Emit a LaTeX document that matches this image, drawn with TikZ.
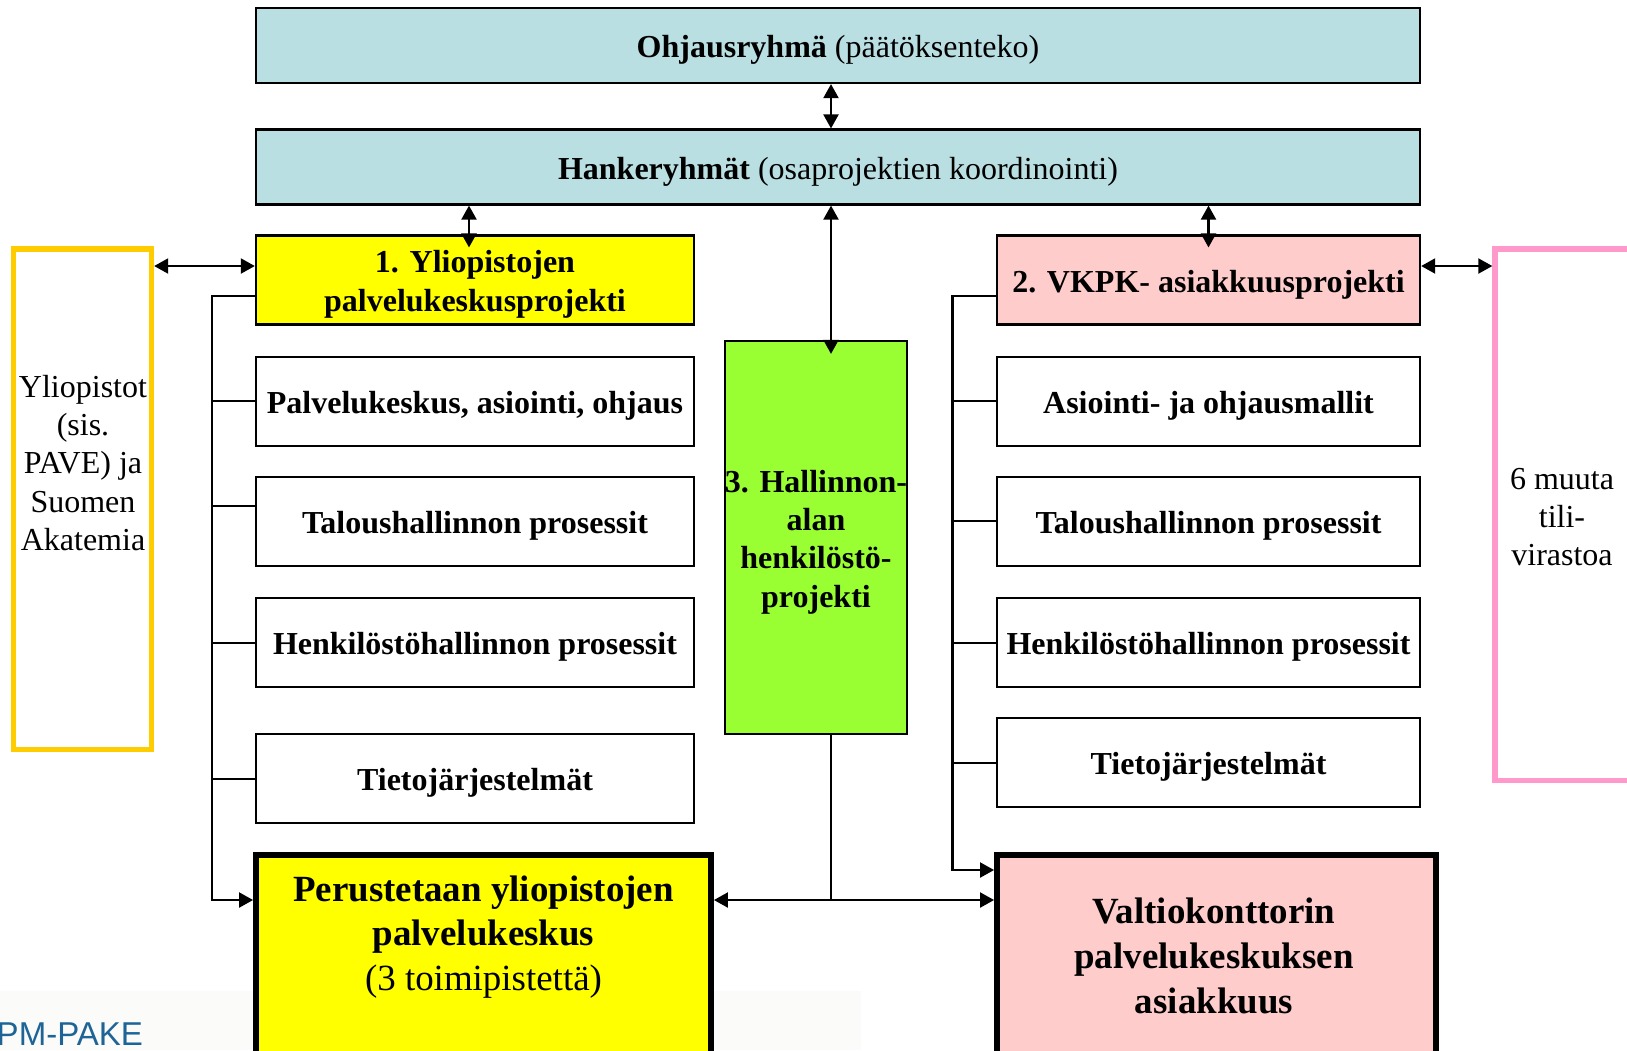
\documentclass[tikz,border=0pt]{standalone}
\usepackage{fontspec}
\setmainfont{Liberation Serif}
\newfontfamily\pakefont{Liberation Sans}
\usepackage{tikz}
\usetikzlibrary{positioning}
\usetikzlibrary{arrows.meta}
\usetikzlibrary{calc}
\usepackage{xcolor}
\definecolor{hankeblue}{RGB}{185,223,226}
\definecolor{projyellow}{RGB}{255,255,0}
\definecolor{projpink}{RGB}{255,204,204}
\definecolor{projgreen}{RGB}{153,255,51}
\definecolor{yoorange}{RGB}{255,204,0}
\definecolor{muutpink}{RGB}{255,153,204}
\definecolor{pakeblue}{RGB}{30,100,150}
\definecolor{footgray}{RGB}{251,251,249}
% lifts the first line so the text sits a little lower in its box
\newcommand{\lift}{\rule{0pt}{8.8pt}}

\begin{document}
\begin{tikzpicture}[
  x=0.01cm, y=-0.01cm,
  txt/.style={align=center, inner sep=0pt, font=\fontsize{9.1}{10.9}\selectfont},
  box/.style={txt, draw, line width=0.6pt, minimum width=4.38cm, minimum height=0.89cm,
    font=\fontsize{9.1}{10.9}\selectfont\bfseries, execute at begin node=\lift},
  topbox/.style={box, fill=hankeblue, minimum width=11.64cm, minimum height=0.75cm, font=\fontsize{9.1}{10.9}\selectfont},
  bigbox/.style={draw, line width=1.6pt, minimum width=4.5cm, minimum height=2.1cm},
  bigtxt/.style={align=center, inner sep=0pt, font=\fontsize{10.5}{12.7}\selectfont\bfseries},
  sidebox/.style={txt, draw, line width=1.5pt, minimum width=1.38cm},
  line/.style={line width=0.6pt},
  arr/.style={line, -{Triangle[length=0.14cm,width=0.15cm]}},
  darr/.style={line, {Triangle[length=0.14cm,width=0.15cm]}-{Triangle[length=0.14cm,width=0.15cm]}}
]
\useasboundingbox (0,0) rectangle (1627,1050);
\clip (0,0) rectangle (1627,1050);

\fill[footgray] (0,991) rectangle (861,1050);
\node[anchor=base west, inner sep=0pt, text=pakeblue, font=\pakefont\fontsize{9.4}{11}\selectfont] (pake) at (-4,1045) {PM-PAKE};

\node[topbox] (ohj) at (838,45.5) {\textbf{Ohjausryhmä} (päätöksenteko)};
\node[topbox] (hanke) at (838,167) {\textbf{Hankeryhmät} (osaprojektien koordinointi)};

% project 1
\node[box, fill=projyellow] (p1) at (475,280) {\lift1. Yliopistojen\\palvelukeskusprojekti};
\node[box, below=0.30cm of p1] (pa1) {Palvelukeskus, asiointi, ohjaus};
\node[box, below=0.29cm of pa1] (ta1) {Taloushallinnon prosessit};
\node[box, below=0.30cm of ta1] (he1) {Henkilöstöhallinnon prosessit};
\node[box, below=0.45cm of he1] (ti1) {Tietojärjestelmät};

% project 2
\node[box, fill=projpink, minimum width=4.23cm] (p2) at (1208.5,280) {2. VKPK- asiakkuusprojekti};
\node[box, minimum width=4.23cm, below=0.30cm of p2] (as2) {Asiointi- ja ohjausmallit};
\node[box, minimum width=4.23cm, below=0.29cm of as2] (ta2) {Taloushallinnon prosessit};
\node[box, minimum width=4.23cm, below=0.30cm of ta2] (he2) {Henkilöstöhallinnon prosessit};
\node[box, minimum width=4.23cm, below=0.29cm of he2] (ti2) {Tietojärjestelmät};

% project 3
\node[box, fill=projgreen, minimum width=1.82cm, minimum height=3.93cm] (g) at (816,537.5) {\lift3. Hallinnon-\\alan\\henkilöstö-\\projekti};

% side groups
\node[sidebox, draw=yoorange, minimum height=5cm] (yo) at (82.5,499) {};
\node[txt] (yo-txt) at (83,463) {Yliopistot\\(sis.\\PAVE) ja\\Suomen\\Akatemia};
\node[sidebox, draw=muutpink, minimum width=1.35cm, minimum height=5.31cm] (muut) at (1562.5,514.5) {};
\node[txt] (muut-txt) at (1562,517) {6 muuta\\tili-\\virastoa};

% results
\node[bigbox, fill=projyellow, minimum width=4.55cm] (perus) at (483.5,960) {};
\node[bigtxt] (perus-txt) at (483.5,937) {Perustetaan yliopistojen\\palvelukeskus\\\textmd{(3 toimipistettä)}};
\node[bigbox, fill=projpink, minimum width=4.39cm] (valtio) at (1216.5,960) {};
\node[bigtxt] (valtio-txt) at (1214,956) {Valtiokonttorin\\palvelukeskuksen\\asiakkuus};

\coordinate (lbus) at (212,900);
\coordinate (rbus) at (952.5,870);
\coordinate (mid) at (831,900);
\coordinate (p1top) at ($(p1.north)+(-6,0)$);

\draw[darr] (ohj.south -| mid) -- (hanke.north -| mid);
\draw[darr, shorten >=-0.14cm] (hanke.south -| mid) -- (g.north -| mid);
\draw[darr, shorten >=-0.13cm] (hanke.south -| p1top) -- (p1top);
\draw[darr, shorten >=-0.13cm] (hanke.south -| p2.north) -- (p2.north);
\draw[darr] (yo.east |- 0,266) -- (p1.west |- 0,266);
\draw[darr] (p2.east |- 0,266) -- (muut.west |- 0,266);

\draw[arr] ($(p1.west)+(0,16)$) -| (lbus) -- (lbus -| perus.west);
\foreach \n in {pa1,he1,ti1} \draw[line] (\n.west) -- (\n.west -| lbus);
\draw[line] ($(ta1.west)+(0,-15)$) -- ($(ta1.west -| lbus)+(0,-15)$);

\draw[arr] ($(p2.west)+(0,16)$) -| (rbus) -- (rbus -| valtio.west);
\foreach \n in {as2,ta2,he2,ti2} \draw[line] (\n.west) -- (\n.west -| rbus);

\draw[line] (g.south -| mid) -- (mid);
\draw[arr] (mid) -- (mid -| perus.east);
\draw[arr] (mid) -- (mid -| valtio.west);

\end{tikzpicture}
\end{document}
